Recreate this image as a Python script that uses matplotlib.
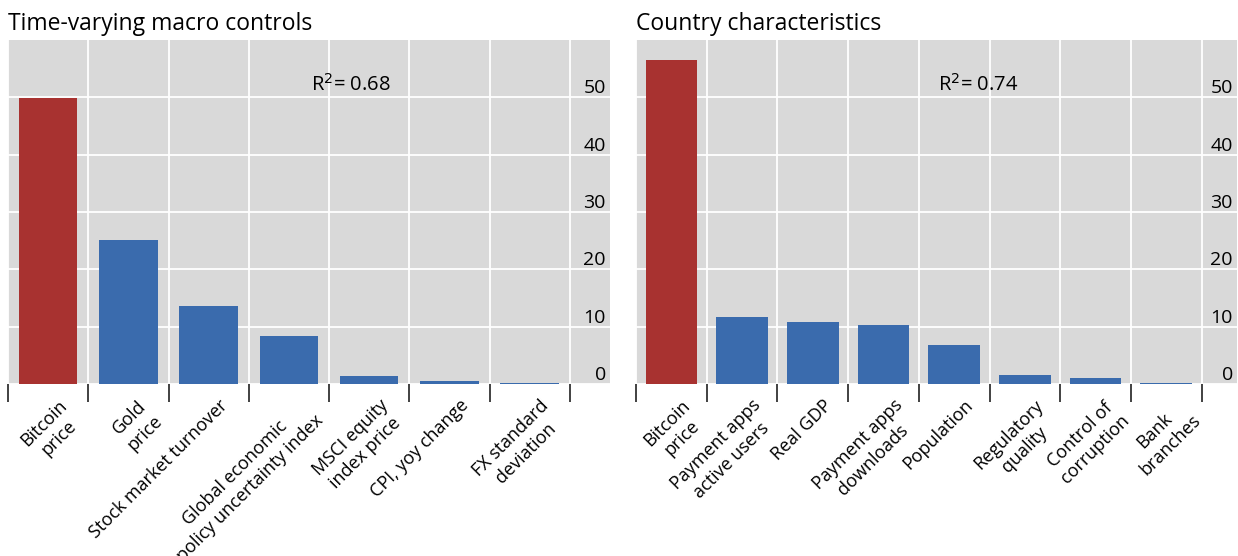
import matplotlib
matplotlib.use("Agg")
import matplotlib.pyplot as plt
from matplotlib.transforms import ScaledTranslation
import numpy as np

# ---- data ----
macro_labels = ["Bitcoin\nprice", "Gold\nprice", "Stock market turnover",
                "Global economic\npolicy uncertainty index", "MSCI equity\nindex price",
                "CPI, yoy change", "FX standard\ndeviation"]
macro_values = [49.8, 25.1, 13.6, 8.4, 1.45, 0.6, 0.25]
macro_r2 = 0.68

country_labels = ["Bitcoin\nprice", "Payment apps\nactive users", "Real GDP",
                  "Payment apps\ndownloads", "Population", "Regulatory\nquality",
                  "Control of\ncorruption", "Bank\nbranches"]
country_values = [56.5, 11.7, 10.8, 10.3, 6.8, 1.6, 1.1, 0.15]
country_r2 = 0.74

titles = ["Time-varying macro controls", "Country characteristics"]
yticks = [0, 10, 20, 30, 40, 50]

RED = "#A83230"
BLUE = "#3A6BAD"
BG = "#D9D9D9"
FONT = "Open Sans"

plt.rcParams["font.family"] = [FONT, "DejaVu Sans"]

fig = plt.figure(figsize=(12.38, 5.56), dpi=100)
W, H = 1238, 556
axes_px = [(8, 40, 610, 384), (636, 40, 1237, 384)]

panels = [(macro_labels, macro_values, macro_r2), (country_labels, country_values, country_r2)]

for (x0, y0, x1, y1), (labels, values, r2), title in zip(axes_px, panels, titles):
    ax = fig.add_axes([x0 / W, 1 - y1 / H, (x1 - x0) / W, (y1 - y0) / H])
    ax.set_facecolor(BG)
    n = len(values)
    pos = np.arange(n)
    colors = [RED] + [BLUE] * (n - 1)
    ax.bar(pos, values, width=0.73, color=colors, zorder=3)
    ax.set_xlim(-0.5, n)
    ax.set_ylim(0, 60)
    for s in ax.spines.values():
        s.set_visible(False)

    # major x ticks at category boundaries (tick marks + grid), minor at centres (labels)
    ax.set_xticks(np.arange(-0.5, n, 1.0)[: n + 1])
    ax.set_xticklabels([])
    ax.set_xticks(pos, minor=True)
    ax.set_xticklabels(labels, minor=True, rotation=45, ha="right", va="top",
                       rotation_mode="anchor", multialignment="center", fontsize=13,
                       linespacing=1.25)
    ax.tick_params(axis="x", which="major", direction="out", length=13, width=1.3,
                   color="#333333")
    ax.tick_params(axis="x", which="minor", length=0, pad=9)
    off = ScaledTranslation(7 / 72, 0, fig.dpi_scale_trans)
    for lbl in ax.get_xticklabels(minor=True):
        lbl.set_transform(lbl.get_transform() + off)

    ax.yaxis.tick_right()
    ax.set_yticks(yticks)
    ax.set_yticklabels([str(v) for v in yticks])
    ax.tick_params(axis="y", length=0, pad=-3, labelsize=14)
    for lbl in ax.get_yticklabels():
        lbl.set_horizontalalignment("right")
        lbl.set_verticalalignment("bottom")

    ax.grid(True, which="major", color="white", linewidth=1.3, zorder=0)
    ax.set_axisbelow(True)

    ax.text(0.57, 0.87, "R$^2$= %.2f" % r2, transform=ax.transAxes, ha="center",
            va="center", fontsize=14.5)
    ax.set_title(title, loc="left", fontsize=16.5, pad=7)

fig.savefig("out.png", dpi=100)
